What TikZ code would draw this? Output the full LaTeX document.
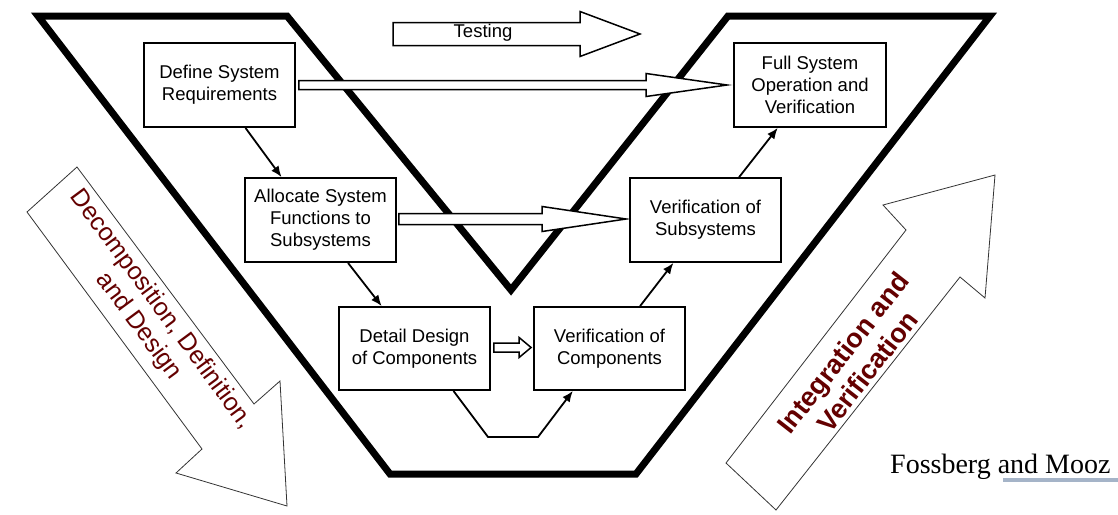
\documentclass[tikz,border=0pt]{standalone}
\usepackage{fontspec}
\setmainfont{Liberation Sans}
\newfontfamily\timesfont{Liberation Serif}
\usetikzlibrary{arrows.meta,calc}
\definecolor{vmaroon}{RGB}{100,0,0}
\definecolor{rulegray}{RGB}{165,180,200}
\newcommand\hollowarrow[5]{%
  \draw[harrow] ($(#1)+(0,#3)$) -- ($(#2)+(-#5,#3)$) -- ($(#2)+(-#5,#4)$) -- (#2)
    -- ($(#2)+(-#5,-#4)$) -- ($(#2)+(-#5,-#3)$) -- ($(#1)+(0,-#3)$) -- cycle;}
\tikzset{
  box/.style={draw, fill=white, line width=1.8pt, minimum width=151pt, minimum height=84pt,
    inner sep=0pt, align=center, font=\fontsize{18.5}{22}\selectfont},
  conn/.style={line width=1.8pt, -{Latex[length=11pt,width=9pt]}},
  harrow/.style={draw, line width=1.5pt, fill=white, line join=miter},
  vshape/.style={line width=7pt, line join=miter},
  bigarrow/.style={draw=black!80, line width=0.8pt, fill=white, line join=miter},
  rotlabel/.style={text=vmaroon, align=center}
}
\begin{document}
\begin{tikzpicture}[x=1pt,y=-1pt]
\useasboundingbox (0,0) rectangle (1118,514);
% V outline
\draw[vshape] (38,16) -- (287,16) -- (511,290) -- (728,16) -- (990,16) -- (636,474) -- (390,474) -- cycle;

% big diagonal arrows
\draw[bigarrow] (27,212) -- (77,167) -- (254,404) -- (280,381) -- (287,506) -- (176,473) -- (202,449) -- cycle;
\draw[bigarrow] (726,463) -- (906,230) -- (883,205) -- (995,175) -- (985,298) -- (960,277) -- (776,510) -- cycle;
\node[rotlabel, rotate=-53.5, font=\fontsize{25}{28}\selectfont] (decomp) at (150,318)
  {Decomposition, Definition,\\and Design};
\node[rotlabel, rotate=52, font=\bfseries\fontsize{27}{31}\selectfont] (integ) at (855,362)
  {Integration and\\Verification};

% boxes
\node[box] (def) at (219.5,85) {Define System\\Requirements};
\node[box] (alloc) at (320.5,220) {Allocate System\\Functions to\\Subsystems};
\node[box, minimum height=83pt] (det) at (414.5,348.5) {Detail Design\\of Components};
\node[box, minimum height=83pt] (vc) at (609.5,348.5) {Verification of\\Components};
\node[box] (vs) at (705.5,220) {Verification of\\Subsystems};
\node[box, minimum width=152pt] (full) at (810,85) {Full System\\Operation and\\Verification};

% testing arrow
\coordinate (t1) at (393,34);
\coordinate (t2) at (640,34);
\hollowarrow{t1}{t2}{11.5}{22.5}{60}
\node[font=\fontsize{18.5}{22}\selectfont] (testing) at (483,33) {Testing};

% hollow arrows between boxes
\coordinate (a1) at ($(def.east)+(3,0)$);
\coordinate (a2) at ($(full.west)+(-6,0)$);
\hollowarrow{a1}{a2}{4.5}{11.5}{81}
\coordinate (b1) at ($(alloc.east)+(2,-1)$);
\coordinate (b2) at ($(vs.west)+(-3,-1)$);
\hollowarrow{b1}{b2}{5.5}{12.5}{84}
\coordinate (c1) at ($(det.east)+(3,-1)$);
\coordinate (c2) at ($(vc.west)+(-2,-1)$);
\hollowarrow{c1}{c2}{4.5}{10}{12}

% thin connectors
\draw[conn] ($(def.south west)!0.67!(def.south east)$) -- ($(alloc.north west)!0.245!(alloc.north east)$);
\draw[conn] ($(alloc.south west)!0.68!(alloc.south east)$) -- ($(det.north west)!0.285!(det.north east)$);
\draw[conn] ($(vc.north west)!0.70!(vc.north east)$) -- ($(vs.south west)!0.29!(vs.south east)$);
\draw[conn] ($(vs.north west)!0.72!(vs.north east)$) -- ($(full.south west)!0.29!(full.south east)$);
\coordinate (d1) at (488,437);
\coordinate (d2) at (538,437);
\draw[conn, line join=miter] ($(det.south west)!0.755!(det.south east)$) -- (d1) -- (d2) -- ($(vc.south west)!0.26!(vc.south east)$);

% credit
\node[anchor=base west, inner sep=0pt, font=\timesfont\fontsize{28}{32}\selectfont] (credit) at (890,473) {Fossberg and Mooz};
\coordinate (r1) at (1003,480);
\coordinate (r2) at (1118,480);
\draw[rulegray, line width=4pt] (r1) -- (r2);
\end{tikzpicture}
\end{document}
